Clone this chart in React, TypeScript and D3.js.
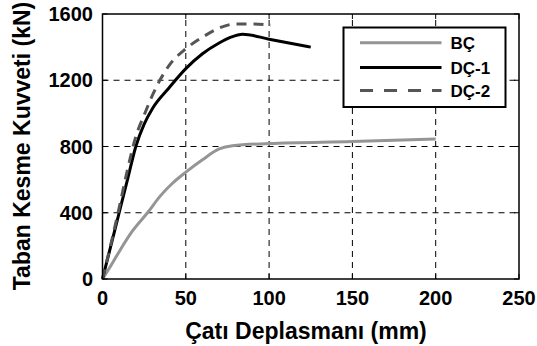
import { useMemo } from 'react';
import * as d3 from 'd3';

const W = 537;
const H = 346;

// displacement (mm), base shear (kN)
const bcX = [0, 5, 10, 18, 27, 35, 42, 50, 60, 70, 78, 100, 150, 200];
const bcY = [0, 80, 165, 290, 400, 505, 578, 645, 720, 785, 805, 818, 830, 845];

const dc1X = [0, 5, 10, 15, 20, 25, 30, 40, 50, 60, 70, 77, 84, 100, 125];
const dc1Y = [0, 200, 400, 600, 800, 935, 1030, 1155, 1270, 1360, 1425, 1460, 1478, 1448, 1400];

const dc2X = [0, 5, 10, 15, 20, 25, 30, 35, 40, 50, 60, 70, 80, 90, 101];
const dc2Y = [0, 210, 430, 660, 860, 990, 1110, 1210, 1290, 1390, 1460, 1515, 1540, 1540, 1532];

const xTicks = [0, 50, 100, 150, 200, 250];
const yTicks = [0, 400, 800, 1200, 1600];

const seriesNames = ['BÇ', 'DÇ-1', 'DÇ-2'];

const FONT = '"Liberation Sans", Arial, sans-serif';

export default function App() {
  const margin = { left: 102.5, right: W - 519, top: 14, bottom: H - 279 };
  const x = d3.scaleLinear().domain([0, 250]).range([margin.left, W - margin.right]);
  const y = d3.scaleLinear().domain([0, 1600]).range([H - margin.bottom, margin.top]);

  const series = useMemo(() => [
    { name: seriesNames[0], xs: bcX, ys: bcY, color: '#959595', dash: undefined },
    { name: seriesNames[1], xs: dc1X, ys: dc1Y, color: '#000000', dash: undefined },
    { name: seriesNames[2], xs: dc2X, ys: dc2Y, color: '#555555', dash: '10,7' },
  ], []);

  const line = d3.line<[number, number]>()
    .x(d => x(d[0]))
    .y(d => y(d[1]))
    .curve(d3.curveMonotoneX);

  const x0 = x(0), x1 = x(250), y0 = y(0), y1 = y(1600);

  const legend = { x: 343.5, y: 27.5, w: 162, h: 79.5 };
  const legendRows = [42.7, 67.5, 90.5];

  return (
    <svg width={W} height={H} style={{ position: 'absolute', left: 0, top: 0, background: '#fff' }}>
      {/* grid */}
      <g stroke="#000" strokeWidth={1} strokeDasharray="6,5" fill="none">
        {xTicks.slice(1, -1).map(t => (
          <line key={'gx' + t} x1={x(t)} x2={x(t)} y1={y0} y2={y1} />
        ))}
        {yTicks.slice(1, -1).map(t => (
          <line key={'gy' + t} x1={x0} x2={x1} y1={y(t)} y2={y(t)} />
        ))}
      </g>

      {/* curves */}
      {series.map(s => (
        <path
          key={s.name}
          d={line(s.xs.map((v, i) => [v, s.ys[i]] as [number, number])) || ''}
          fill="none"
          stroke={s.color}
          strokeWidth={3}
          strokeDasharray={s.dash}
          strokeLinejoin="round"
        />
      ))}

      {/* frame */}
      <rect x={x0} y={y1} width={x1 - x0} height={y0 - y1} fill="none" stroke="#000" strokeWidth={1.5} />

      {/* ticks */}
      <g stroke="#000" strokeWidth={1}>
        {xTicks.map(t => (
          <g key={'tx' + t}>
            <line x1={x(t)} x2={x(t)} y1={y0} y2={y0 - 5} />
            <line x1={x(t)} x2={x(t)} y1={y1} y2={y1 + 5} />
          </g>
        ))}
        {yTicks.map(t => (
          <g key={'ty' + t}>
            <line x1={x0} x2={x0 + 5} y1={y(t)} y2={y(t)} />
            <line x1={x1} x2={x1 - 5} y1={y(t)} y2={y(t)} />
          </g>
        ))}
      </g>

      <g fontFamily={FONT} fontWeight="bold" fontSize={20} fill="#000">
        {xTicks.map(t => (
          <text key={'lx' + t} x={x(t)} y={305} textAnchor="middle">{t}</text>
        ))}
        {yTicks.map(t => (
          <text key={'ly' + t} x={93} y={y(t) + 7} textAnchor="end">{t}</text>
        ))}
        <text x={306} y={339} textAnchor="middle" fontSize={23}>Çatı Deplasmanı (mm)</text>
        <text transform={`translate(30,146) rotate(-90)`} textAnchor="middle" fontSize={23}>Taban Kesme Kuvveti (kN)</text>
      </g>

      {/* legend */}
      <rect x={legend.x} y={legend.y} width={legend.w} height={legend.h} fill="#fff" stroke="#000" strokeWidth={2} />
      {series.map((s, i) => (
        <g key={'lg' + s.name}>
          <line x1={360} x2={441.5} y1={legendRows[i]} y2={legendRows[i]} stroke={s.color} strokeWidth={3} strokeDasharray={s.dash ? '13,11' : undefined} />
          <text x={450.5} y={legendRows[i] + 6} fontFamily={FONT} fontWeight="bold" fontSize={17}>{s.name}</text>
        </g>
      ))}
    </svg>
  );
}
